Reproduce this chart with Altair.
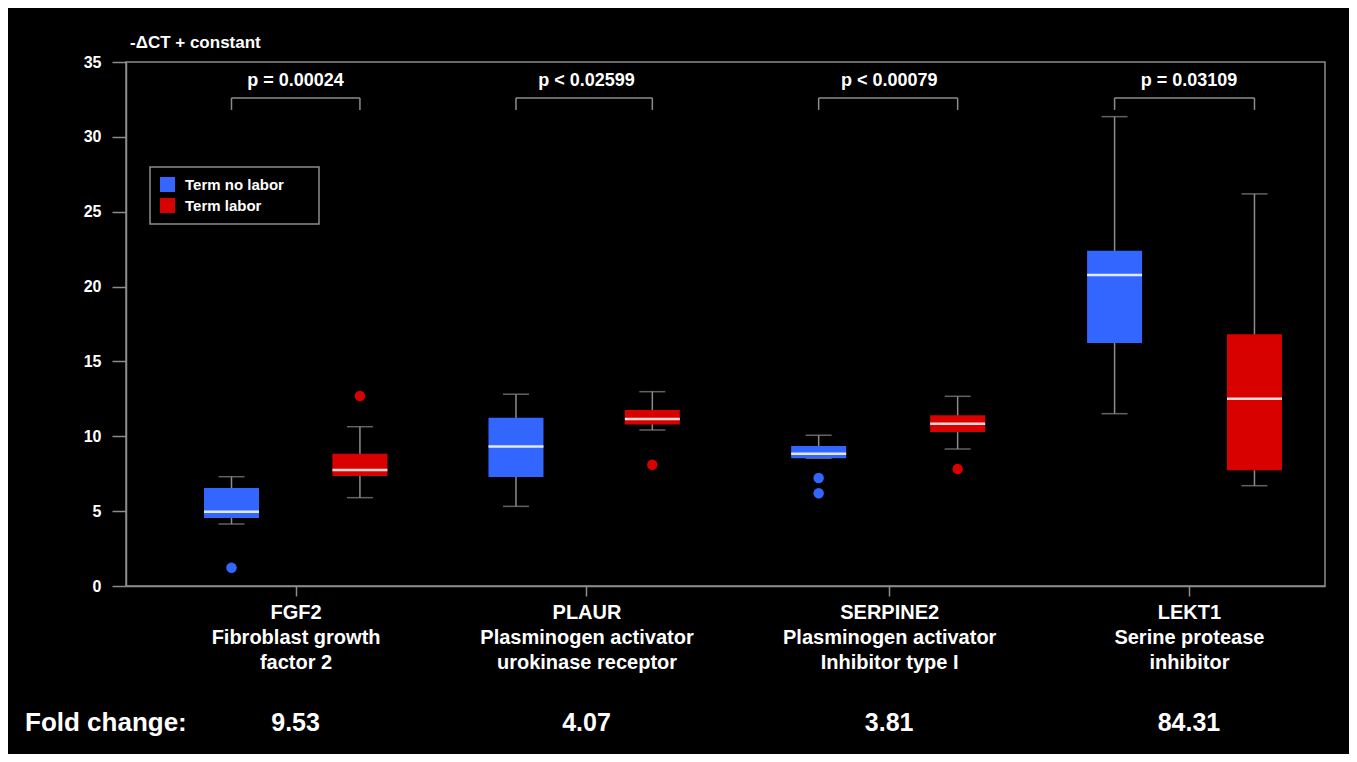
import json
import altair as alt
import pandas as pd

# ---------------- data ----------------
genes = ["FGF2", "PLAUR", "SERPINE2", "LEKT1"]
gene_labels = [
    ["FGF2", "Fibroblast growth", "factor 2"],
    ["PLAUR", "Plasminogen activator", "urokinase receptor"],
    ["SERPINE2", "Plasminogen activator", "Inhibitor type I"],
    ["LEKT1", "Serine protease", "inhibitor"],
]
gene_pos = [0.99, 1.98, 3.01, 4.03]        # category tick positions
nolabor_x = [0.772, 1.740, 2.770, 3.777]   # box centres, Term no labor
labor_x = [1.209, 2.204, 3.243, 4.253]     # box centres, Term labor
groups = ["Term no labor", "Term labor"]
p_values = ["p = 0.00024", "p < 0.02599", "p < 0.00079", "p = 0.03109"]
fold_change = ["9.53", "4.07", "3.81", "84.31"]
y_title = "-ΔCT + constant"
fold_title = "Fold change:"

# Term no labor (blue)
nolabor_low = [4.14, 5.32, 8.53, 11.51]
nolabor_q1 = [4.54, 7.28, 8.53, 16.23]
nolabor_med = [4.96, 9.31, 8.84, 20.77]
nolabor_q3 = [6.55, 11.24, 9.35, 22.40]
nolabor_high = [7.30, 12.81, 10.07, 31.35]
nolabor_out_gene = ["FGF2", "SERPINE2", "SERPINE2"]
nolabor_out_val = [1.22, 7.21, 6.19]

# Term labor (red)
labor_low = [5.90, 10.42, 9.15, 6.70]
labor_q1 = [7.35, 10.78, 10.29, 7.73]
labor_med = [7.75, 11.16, 10.84, 12.51]
labor_q3 = [8.84, 11.76, 11.40, 16.81]
labor_high = [10.64, 12.98, 12.67, 26.19]
labor_out_gene = ["FGF2", "PLAUR", "SERPINE2"]
labor_out_val = [12.69, 8.10, 7.82]

# ---------------- styling / layout ----------------
BLUE = "#3366ff"
RED = "#d90000"
GRAY = "#8c8c8c"
FONT = "Liberation Sans"
BRACKET_TOP = 32.6
BRACKET_BOTTOM = 31.8
P_LABEL_Y = 33.75

gidx = {g: i for i, g in enumerate(genes)}

rows = []
for g, gname in enumerate(groups):
    if g == 0:
        src = (nolabor_x, nolabor_low, nolabor_q1, nolabor_med, nolabor_q3, nolabor_high)
    else:
        src = (labor_x, labor_low, labor_q1, labor_med, labor_q3, labor_high)
    for i, gene in enumerate(genes):
        rows.append(
            dict(
                gene=gene,
                group=gname,
                x=src[0][i],
                low=src[1][i],
                q1=src[2][i],
                med=src[3][i],
                q3=src[4][i],
                high=src[5][i],
            )
        )
df_box = pd.DataFrame(rows)

df_out_blue = pd.DataFrame(
    {"x": [nolabor_x[gidx[g]] for g in nolabor_out_gene], "v": nolabor_out_val}
)
df_out_red = pd.DataFrame(
    {"x": [labor_x[gidx[g]] for g in labor_out_gene], "v": labor_out_val}
)

df_gene = pd.DataFrame(
    {
        "gene": genes,
        "pos": gene_pos,
        "x1": nolabor_x,
        "x2": labor_x,
        "p": p_values,
        "fc": fold_change,
        "top": [BRACKET_TOP] * 4,
        "bottom": [BRACKET_BOTTOM] * 4,
        "ptxt": [P_LABEL_Y] * 4,
    }
)
df_legs = pd.DataFrame(
    {
        "x": nolabor_x + labor_x,
        "top": [BRACKET_TOP] * 8,
        "bottom": [BRACKET_BOTTOM] * 8,
    }
)

label_expr = ""
for p, lab in zip(gene_pos, gene_labels):
    label_expr += f"datum.value == {p} ? {json.dumps(lab)} : "
label_expr += "''"

x_scale = alt.Scale(domain=[0.43, 4.476], nice=False, zero=False)
y_scale = alt.Scale(domain=[0, 35], nice=False, zero=False)

x_axis = alt.Axis(
    values=gene_pos,
    labelExpr=label_expr,
    tickSize=10,
    labelPadding=6,
    labelFontSize=20,
    labelFontWeight="bold",
    labelFont=FONT,
    labelColor="white",
    labelLineHeight=25,
    labelBaseline="top",
    labelOverlap=False,
    labelFlush=False,
    labelLimit=0,
    grid=False,
    title=None,
)
y_axis = alt.Axis(
    values=list(range(0, 36, 5)),
    tickSize=14,
    labelPadding=11,
    labelFontSize=16,
    labelFontWeight="bold",
    labelFont=FONT,
    labelColor="white",
    grid=False,
    title=None,
)

base = alt.Chart(df_box)

whisker = base.mark_rule(color=GRAY, strokeWidth=1.5).encode(
    x=alt.X("x:Q", scale=x_scale, axis=x_axis),
    y=alt.Y("low:Q", scale=y_scale, axis=y_axis),
    y2="high:Q",
)
cap_low = base.mark_tick(orient="horizontal", size=26, thickness=1.5, color=GRAY).encode(
    x=alt.X("x:Q", title=None), y=alt.Y("low:Q", title=None)
)
cap_high = base.mark_tick(orient="horizontal", size=26, thickness=1.5, color=GRAY).encode(
    x=alt.X("x:Q", title=None), y=alt.Y("high:Q", title=None)
)
box = base.mark_bar(size=55, orient="vertical").encode(
    x=alt.X("x:Q", title=None),
    y=alt.Y("q1:Q", title=None),
    y2="q3:Q",
    color=alt.Color(
        "group:N",
        scale=alt.Scale(domain=groups, range=[BLUE, RED]),
        legend=alt.Legend(
            title="xx",
            titleOrient="right",
            titleOpacity=0,
            titlePadding=8,
            titleFontSize=15,
        ),
    ),
)
median = base.mark_tick(
    orient="horizontal", size=55, thickness=2.5, color="white", opacity=0.85
).encode(x=alt.X("x:Q", title=None), y=alt.Y("med:Q", title=None))

out_blue = alt.Chart(df_out_blue).mark_circle(size=110, color=BLUE, opacity=1).encode(
    x=alt.X("x:Q", title=None), y=alt.Y("v:Q", title=None)
)
out_red = alt.Chart(df_out_red).mark_circle(size=110, color=RED, opacity=1).encode(
    x=alt.X("x:Q", title=None), y=alt.Y("v:Q", title=None)
)

gchart = alt.Chart(df_gene)
bracket_h = gchart.mark_rule(color=GRAY, strokeWidth=1.5).encode(
    x=alt.X("x1:Q", title=None), x2="x2:Q", y=alt.Y("top:Q", title=None)
)
bracket_v = alt.Chart(df_legs).mark_rule(color=GRAY, strokeWidth=1.5).encode(
    x=alt.X("x:Q", title=None), y=alt.Y("bottom:Q", title=None), y2="top:Q"
)
p_text = gchart.mark_text(
    color="white", fontSize=18, fontWeight="bold", font=FONT, baseline="middle"
).encode(x=alt.X("pos:Q", title=None), y=alt.Y("ptxt:Q", title=None), text="p:N")

fc_text = gchart.mark_text(
    color="white", fontSize=25, fontWeight="bold", font=FONT, baseline="middle"
).encode(x=alt.X("pos:Q", title=None), y=alt.value(661), text="fc:N")

fc_title = alt.Chart(pd.DataFrame({"t": [fold_title]})).mark_text(
    color="white", fontSize=26, fontWeight="bold", font=FONT, baseline="middle", align="left"
).encode(x=alt.value(-101), y=alt.value(661), text="t:N")

y_title_text = alt.Chart(pd.DataFrame({"t": [y_title]})).mark_text(
    color="white", fontSize=17, fontWeight="bold", font=FONT, baseline="alphabetic", align="left"
).encode(x=alt.value(4), y=alt.value(-14), text="t:N")

chart = (
    alt.layer(
        whisker, cap_low, cap_high, box, median, out_blue, out_red,
        bracket_h, bracket_v, p_text, fc_text, fc_title, y_title_text,
    )
    .properties(
        width=1199,
        height=524,
        autosize=alt.AutoSizeParams(type="none"),
        padding={"left": 118, "top": 54, "right": 24, "bottom": 168},
        background="black",
    )
    .configure_view(stroke=GRAY, strokeWidth=1.5)
    .configure_axis(domainColor=GRAY, tickColor=GRAY, domainWidth=1.5, tickWidth=1.5)
    .configure_legend(
        orient="none",
        legendX=24,
        legendY=105,
        strokeColor=GRAY,
        strokeWidth=1.5,
        fillColor="black",
        padding=10,
        symbolType="square",
        symbolSize=225,
        symbolStrokeWidth=0,
        symbolOpacity=1,
        labelFontSize=15,
        labelFontWeight="bold",
        labelFont=FONT,
        labelColor="white",
        labelOffset=10,
        rowPadding=5,
        cornerRadius=0,
    )
)

chart.save("out.html", embed_options={"renderer": "svg", "actions": False})
